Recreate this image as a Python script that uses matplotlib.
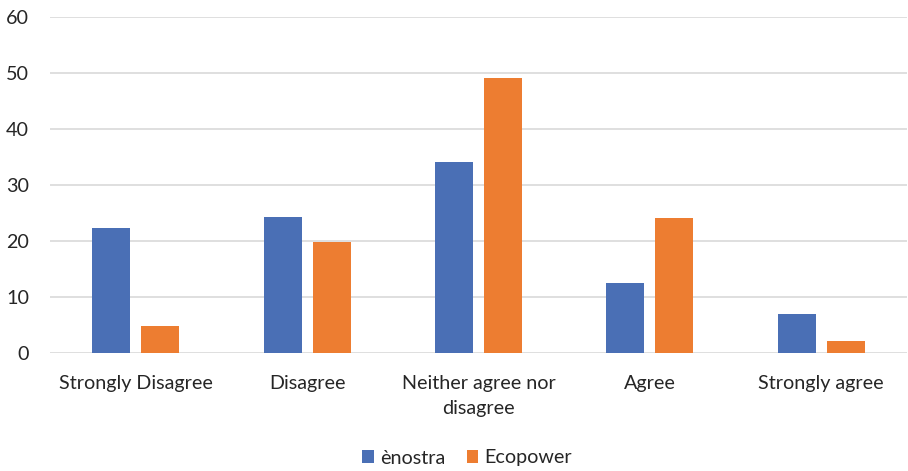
import matplotlib
matplotlib.use("Agg")
import matplotlib.pyplot as plt
import numpy as np

categories = ["Strongly Disagree", "Disagree", "Neither agree nor\ndisagree", "Agree", "Strongly agree"]
enostra = [22.2, 24.3, 34.0, 12.4, 6.9]
ecopower = [4.8, 19.8, 49.0, 24.1, 2.1]
series_names = ["ènostra", "Ecopower"]
yticks = [0, 10, 20, 30, 40, 50, 60]

plt.rcParams['font.family'] = ['Lato', 'DejaVu Sans']
fig = plt.figure(figsize=(9.08, 4.71), dpi=100)
ax = fig.add_axes([50/908, 1-352.7/471, 857/908, (352.7-16.7)/471])

x = np.arange(len(categories))
w = 0.222
off = 0.143
ax.bar(x - off, enostra, w, color="#4A6FB5", label=series_names[0], zorder=3)
ax.bar(x + off, ecopower, w, color="#ED7D31", label=series_names[1], zorder=3)

ax.set_xlim(-0.5, len(categories) - 0.5)
ax.set_ylim(0, 60)
ax.set_yticks(yticks)
ax.yaxis.grid(True, color="#D9D9D9", linewidth=1.2, zorder=0)
ax.set_axisbelow(True)
for s in ax.spines.values():
    s.set_visible(False)
ax.tick_params(axis='both', length=0, labelsize=14.2, colors="#262626")
ax.tick_params(axis='y', pad=15)
ax.tick_params(axis='x', pad=16)
ax.set_xticks(x)
ax.set_xticklabels(categories, linespacing=1.6)

leg = fig.legend(loc='center', bbox_to_anchor=(467/908, 1-458/471), ncol=2, frameon=False,
                 fontsize=14.2, handlelength=0.6, handleheight=0.6, handletextpad=0.3,
                 columnspacing=1.1, labelcolor="#262626")

fig.savefig("out.png", dpi=100)
